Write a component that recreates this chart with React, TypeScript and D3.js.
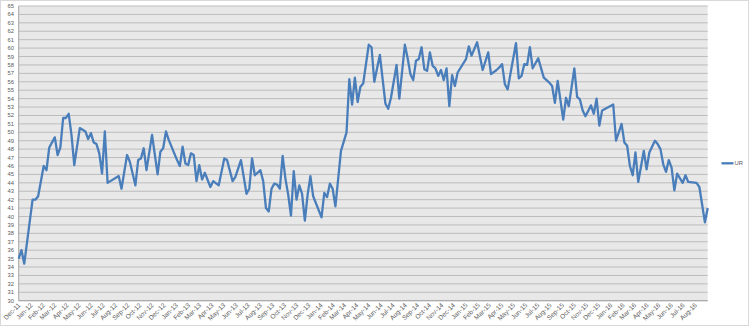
import React from "react";
import * as d3 from "d3";

// Weekly observations: week offset from the first observation (1 Dec 2011)
const startDate = new Date(2011, 11, 1);
const weekOffsets = [
  0, 1, 2, 5, 6, 7, 9, 10, 11, 12, 13, 14, 15, 16, 17, 18, 19, 20, 22, 23,
  24, 25, 26, 27, 28, 29, 30, 31, 32, 33, 35, 36, 37, 39, 40, 42, 43, 44, 45, 46,
  48, 50, 51, 52, 53, 54, 55, 56, 57, 58, 59, 60, 61, 62, 63, 64, 65, 66, 67, 69,
  70, 72, 74, 75, 77, 78, 80, 82, 83, 84, 85, 87, 88, 89, 90, 91, 92, 93, 94, 95,
  96, 97, 98, 99, 100, 101, 102, 103, 104, 105, 106, 109, 110, 111, 112, 113, 114, 116, 118, 119,
  120, 121, 122, 123, 124, 126, 127, 128, 130, 131, 132, 133, 134, 136, 137, 139, 140, 141, 142, 143,
  144, 145, 146, 147, 148, 149, 150, 151, 152, 153, 154, 155, 156, 157, 158, 161, 162, 163, 165, 167,
  169, 170, 172, 173, 174, 175, 176, 179, 180, 181, 182, 183, 184, 185, 187, 189, 191, 192, 193, 194,
  196, 197, 198, 200, 201, 202, 203, 204, 206, 207, 208, 209, 210, 214, 215, 217, 218, 219, 220, 221,
  222, 223, 225, 226, 227, 229, 230, 231, 232, 233, 234, 235, 236, 237, 239, 240, 241, 244, 245, 247,
  248,
];
const urValues = [
  35.0, 36.0, 34.4, 42.0, 42.0, 42.4, 46.0, 45.5, 48.2, 48.8, 49.4, 47.3, 48.2, 51.7, 51.7, 52.2, 49.7, 46.1, 50.5, 50.3,
  50.1, 49.2, 49.9, 48.8, 48.6, 47.5, 45.1, 50.1, 44.0, 44.2, 44.6, 44.8, 43.3, 47.3, 46.5, 43.7, 46.7, 46.9, 48.1, 45.5,
  49.7, 45.0, 47.7, 48.1, 50.1, 49.1, 48.3, 47.5, 46.7, 46.0, 48.3, 46.3, 46.1, 47.5, 47.3, 44.2, 46.1, 44.4, 45.2, 43.5,
  44.2, 43.7, 46.9, 46.7, 44.2, 44.7, 46.7, 42.7, 43.3, 46.9, 44.9, 45.5, 44.2, 41.0, 40.6, 43.3, 43.9, 43.8, 43.3, 47.2,
  44.5, 42.6, 40.1, 45.4, 42.0, 43.7, 42.7, 39.5, 42.6, 44.8, 42.4, 39.9, 42.8, 42.3, 43.9, 43.3, 41.2, 47.8, 50.0, 56.3,
  53.3, 56.5, 53.6, 55.4, 55.8, 60.4, 60.1, 56.0, 59.2, 56.3, 53.4, 52.8, 54.1, 58.0, 54.0, 60.4, 58.8, 56.9, 56.2, 58.5,
  58.7, 60.1, 57.5, 57.3, 59.5, 57.9, 57.6, 56.7, 57.4, 56.2, 57.6, 53.1, 56.8, 55.5, 57.1, 58.7, 60.2, 59.1, 60.7, 57.4,
  59.5, 56.9, 57.4, 57.7, 58.1, 55.7, 55.1, 60.6, 56.4, 56.7, 58.1, 58.0, 60.1, 57.6, 58.8, 56.5, 55.9, 55.5, 53.5, 56.1,
  51.5, 54.1, 53.1, 57.6, 54.2, 53.9, 52.6, 51.9, 53.2, 52.2, 54.0, 50.8, 52.6, 53.3, 49.0, 51.0, 48.8, 48.4, 46.0, 44.9,
  47.6, 44.1, 47.8, 45.6, 47.6, 49.0, 48.6, 48.0, 46.2, 45.3, 46.7, 45.8, 43.1, 45.1, 44.0, 44.9, 44.1, 44.0, 43.5, 39.3,
  41.0,
];
const seriesName = "UR";
const yMin = 30;
const yMax = 65;
const tickStart = new Date(2011, 11, 1);
const tickEnd = new Date(2016, 8, 1); // exclusive: last label Aug-16

const W = 750;
const H = 327;
const plot = { left: 18.7, right: 707.7, top: 6, bottom: 300.7 };
const lineColor = "#4A7EBB";
const font = "'Liberation Sans', Arial, sans-serif";

export default function App() {
  const dates = weekOffsets.map((w) => d3.timeWeek.offset(startDate, w));
  const x = d3
    .scaleTime()
    .domain([dates[0], dates[dates.length - 1]])
    .range([plot.left, plot.right]);
  const y = d3.scaleLinear().domain([yMin, yMax]).range([plot.bottom, plot.top]);
  const yTicks = d3.range(yMin, yMax + 1, 1);
  const xTicks = d3.timeMonth.range(tickStart, tickEnd);
  const fmt = d3.timeFormat("%b-%y");
  const points = dates.map((d, i) => [x(d), y(urValues[i])] as [number, number]);
  const path = d3.line()(points) || "";

  return (
    <svg
      width={W}
      height={H}
      style={{ position: "fixed", left: 0, top: 0, background: "#fff" }}
    >
      <rect x={0.5} y={0.5} width={W - 2} height={H - 2} fill="#fff" stroke="#d9d9d9" />
      <rect
        x={plot.left}
        y={plot.top}
        width={plot.right - plot.left}
        height={plot.bottom - plot.top}
        fill="#e8e8e8"
      />
      {yTicks.map((t) => (
        <line
          key={"g" + t}
          x1={plot.left}
          x2={plot.right}
          y1={y(t)}
          y2={y(t)}
          stroke="#bcbcbc"
          strokeWidth={1}
        />
      ))}
      <line x1={plot.left} x2={plot.left} y1={plot.top} y2={plot.bottom} stroke="#a6a6a6" />
      <line x1={plot.left} x2={plot.right} y1={plot.bottom} y2={plot.bottom} stroke="#a6a6a6" />
      {yTicks.map((t) => (
        <text
          key={"y" + t}
          x={14}
          y={y(t)}
          dy="0.35em"
          textAnchor="end"
          fontSize={5.8}
          fontFamily={font}
          fill="#595959"
        >
          {t}
        </text>
      ))}
      {xTicks.map((d, i) => (
        <text
          key={"x" + i}
          transform={`translate(${x(d) + 2},${plot.bottom + 5}) rotate(-45)`}
          textAnchor="end"
          fontSize={6.5}
          fontFamily={font}
          fill="#595959"
        >
          {fmt(d)}
        </text>
      ))}
      <path d={path} fill="none" stroke={lineColor} strokeWidth={2.3} strokeLinejoin="round" />
      <line x1={721.5} x2={733.5} y1={163.3} y2={163.3} stroke={lineColor} strokeWidth={2.3} />
      <text x={734.5} y={163.3} dy="0.35em" fontSize={5.8} fontFamily={font} fill="#595959">
        {seriesName}
      </text>
    </svg>
  );
}
